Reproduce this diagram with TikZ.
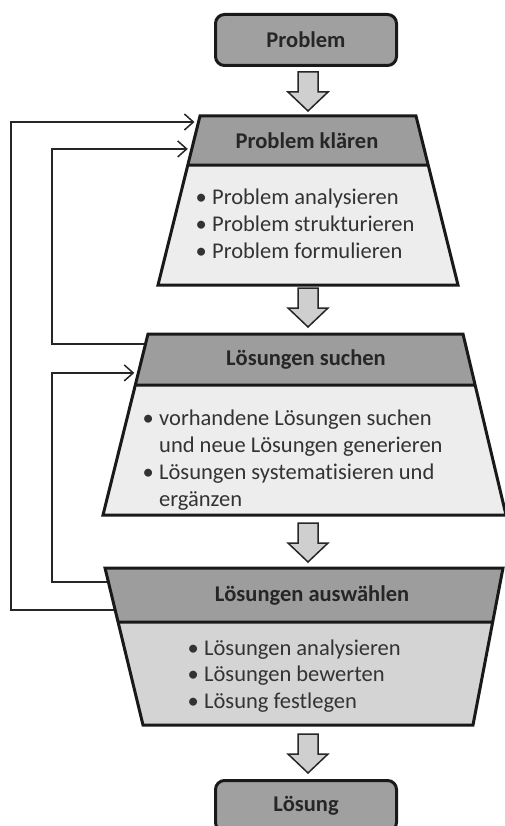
\documentclass[tikz,border=0pt]{standalone}
\usepackage{fontspec}
\setmainfont{Carlito}[Ligatures=NoCommon]
\usetikzlibrary{arrows.meta,calc}

\definecolor{boxgray}{RGB}{160,160,160}
\definecolor{hdrgray}{RGB}{157,157,157}
\definecolor{pale}{RGB}{237,237,237}
\definecolor{midgray}{RGB}{212,212,212}
\definecolor{arrowgray}{RGB}{207,207,207}

\newcommand\sz{\fontsize{22.5}{26.8}\selectfont}
\newcommand\itm{\makebox[11pt][c]{\textbullet}\hspace*{5.5pt}}
\newcommand\cont{\hspace*{16.5pt}}
\newcommand\bigdown[1]{\draw[fatarrow] (#1) ++(-10,0) -- ++(20,0) -- ++(0,20)
  -- ++(10,0) -- ++(-20,19) -- ++(-20,-19) -- ++(10,0) -- cycle;}

\begin{document}
\begin{tikzpicture}[x=1pt, y=-1pt,
  endbox/.style = {shape=rectangle, rounded corners=9pt, draw=black!90, line width=3pt,
                   fill=boxgray, minimum width=181pt, minimum height=51pt,
                   font=\sz\bfseries, text=black!85},
  outline/.style = {draw=black!90, line width=3pt, line join=miter},
  head/.style = {font=\sz\bfseries, text=black!85},
  items/.style = {font=\sz, align=left, anchor=west, inner sep=0pt, text=black!80},
  fatarrow/.style = {draw=black!85, line width=1.5pt, fill=arrowgray, line join=miter},
  back/.style = {draw=black!85, line width=1.5pt,
                 -{Straight Barb[length=9pt,width=16pt]}, shorten >=4pt}]
  \clip (0,0) rectangle (505,826);

  % corners of the three stages
  \coordinate (k-tl) at (200,116); \coordinate (k-tr) at (416,116);
  \coordinate (k-bl) at (158,285); \coordinate (k-br) at (458,285);
  \coordinate (k-hl) at ($(k-tl)!0.29!(k-bl)$); \coordinate (k-hr) at ($(k-tr)!0.29!(k-br)$);
  \coordinate (s-tl) at (148,334); \coordinate (s-tr) at (463,334);
  \coordinate (s-bl) at (103,515); \coordinate (s-br) at (506,515);
  \coordinate (s-hl) at ($(s-tl)!0.282!(s-bl)$); \coordinate (s-hr) at ($(s-tr)!0.282!(s-br)$);
  \coordinate (a-tl) at (105,568); \coordinate (a-tr) at (503,568);
  \coordinate (a-bl) at (143,725); \coordinate (a-br) at (473,725);
  \coordinate (a-hl) at ($(a-tl)!0.344!(a-bl)$); \coordinate (a-hr) at ($(a-tr)!0.344!(a-br)$);

  % feedback loops
  \coordinate (k-in1) at ($(k-tl)!0.0355!(k-bl)$);
  \coordinate (k-in2) at ($(k-tl)!0.195!(k-bl)$);
  \coordinate (s-out) at ($(s-tl)!0.055!(s-bl)$);
  \coordinate (s-in)  at ($(s-tl)!0.215!(s-bl)$);
  \coordinate (a-out1) at ($(a-tl)!0.268!(a-bl)$);
  \coordinate (a-out2) at ($(a-tl)!0.089!(a-bl)$);
  \coordinate (lane-a) at (11,0);
  \coordinate (lane-b) at (52,0);
  \draw[back] (a-out1) -- (a-out1 -| lane-a) |- (k-in1);
  \draw[back] (s-out) -- (s-out -| lane-b) |- (k-in2);
  \draw[back] (a-out2) -- (a-out2 -| lane-b) |- (s-in);

  \node[endbox] (problem) at (306,40) {Problem};
  \bigdown{308,72}

  % Problem klaeren
  \fill[hdrgray] (k-tl) -- (k-tr) -- (k-hr) -- (k-hl) -- cycle;
  \fill[pale] (k-hl) -- (k-hr) -- (k-br) -- (k-bl) -- cycle;
  \draw[outline] (k-tl) -- (k-tr) -- (k-br) -- (k-bl) -- cycle (k-hl) -- (k-hr);
  \node[head] (klaeren) at (307,141) {Problem klären};
  \node[items] (klaeren-list) at (195.5,224) {\itm Problem analysieren\\
    \itm Problem strukturieren\\ \itm Problem formulieren};
  \bigdown{308,288}

  % Loesungen suchen
  \fill[hdrgray] (s-tl) -- (s-tr) -- (s-hr) -- (s-hl) -- cycle;
  \fill[pale] (s-hl) -- (s-hr) -- (s-br) -- (s-bl) -- cycle;
  \draw[outline] (s-tl) -- (s-tr) -- (s-br) -- (s-bl) -- cycle (s-hl) -- (s-hr);
  \node[head] (suchen) at (306,360) {Lösungen suchen};
  \node[items] (suchen-list) at (142.5,460) {\itm vorhandene Lösungen suchen\\
    \cont und neue Lösungen generieren\\
    \itm Lösungen systematisieren und\\ \cont ergänzen};
  \bigdown{308,523}

  % Loesungen auswaehlen
  \fill[hdrgray] (a-tl) -- (a-tr) -- (a-hr) -- (a-hl) -- cycle;
  \fill[midgray] (a-hl) -- (a-hr) -- (a-br) -- (a-bl) -- cycle;
  \draw[outline] (a-tl) -- (a-tr) -- (a-br) -- (a-bl) -- cycle (a-hl) -- (a-hr);
  \node[head] (auswaehlen) at (312,596) {Lösungen auswählen};
  \node[items] (auswaehlen-list) at (187.5,676) {\itm Lösungen analysieren\\
    \itm Lösungen bewerten\\ \itm Lösung festlegen};
  \bigdown{308,734}

  \node[endbox] (loesung) at (306,806) {Lösung};
\end{tikzpicture}
\end{document}
